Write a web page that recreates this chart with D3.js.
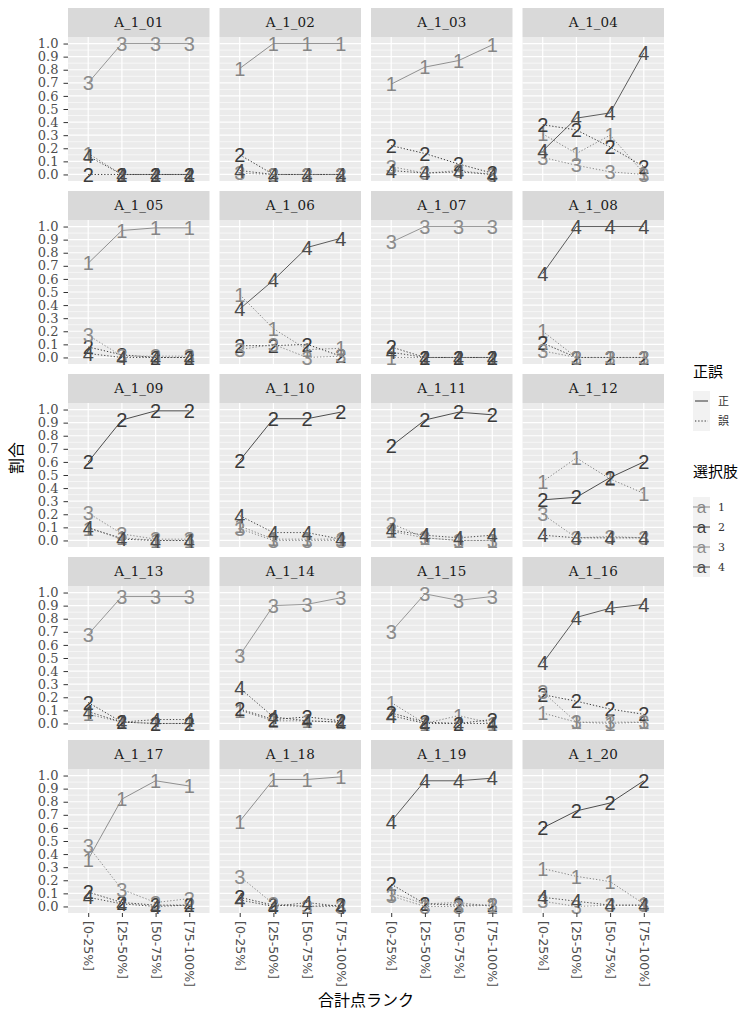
<!DOCTYPE html>
<html>
<head>
<meta charset="utf-8">
<script src="https://cdn.jsdelivr.net/npm/d3@7"></script>
<style>
  body { margin: 0; background: #fff; }
</style>
</head>
<body>
<svg id="chart" width="750" height="1012"></svg>
<script>
// ---- data -------------------------------------------------------------
const items = ["A_1_01","A_1_02","A_1_03","A_1_04","A_1_05","A_1_06","A_1_07","A_1_08","A_1_09","A_1_10",
               "A_1_11","A_1_12","A_1_13","A_1_14","A_1_15","A_1_16","A_1_17","A_1_18","A_1_19","A_1_20"];
const ranks = ["[0-25%]", "[25-50%]", "[50-75%]", "[75-100%]"];
const choices = ["1", "2", "3", "4"];
const correct = [3,1,1,4,1,4,3,4,2,2,2,2,3,3,3,4,1,1,4,2];
const yTicks = [0.0,0.1,0.2,0.3,0.4,0.5,0.6,0.7,0.8,0.9,1.0];

// share of examinees picking each choice, per item, per rank group
const choice1 = [
  [0.16,0.00,0.00,0.00],[0.81,1.00,1.00,1.00],[0.69,0.82,0.87,0.99],[0.31,0.16,0.30,0.01],
  [0.72,0.97,0.99,0.99],[0.48,0.22,0.06,0.07],[0.00,0.00,0.00,0.00],[0.20,0.00,0.00,0.00],
  [0.09,0.02,0.00,0.00],[0.11,0.01,0.01,0.01],[0.07,0.02,0.00,0.00],[0.45,0.63,0.47,0.36],
  [0.07,0.01,0.00,0.00],[0.10,0.02,0.02,0.01],[0.16,0.00,0.06,0.00],[0.08,0.01,0.00,0.01],
  [0.36,0.82,0.96,0.92],[0.65,0.97,0.97,0.99],[0.10,0.02,0.03,0.00],[0.29,0.23,0.19,0.02]
];
const choice2 = [
  [0.00,0.00,0.00,0.00],[0.15,0.00,0.00,0.00],[0.22,0.16,0.08,0.01],[0.38,0.34,0.21,0.06],
  [0.08,0.02,0.00,0.00],[0.09,0.09,0.10,0.01],[0.08,0.00,0.00,0.00],[0.11,0.00,0.00,0.00],
  [0.60,0.92,0.99,0.99],[0.61,0.93,0.93,0.98],[0.72,0.92,0.98,0.96],[0.31,0.33,0.48,0.60],
  [0.16,0.01,0.00,0.00],[0.11,0.03,0.05,0.02],[0.08,0.01,0.00,0.03],[0.22,0.17,0.11,0.07],
  [0.11,0.03,0.01,0.01],[0.07,0.01,0.00,0.01],[0.17,0.02,0.01,0.01],[0.60,0.73,0.79,0.96]
];
const choice3 = [
  [0.70,1.00,1.00,1.00],[0.01,0.00,0.00,0.00],[0.06,0.01,0.03,0.00],[0.13,0.07,0.02,0.00],
  [0.17,0.01,0.01,0.01],[0.06,0.10,0.00,0.01],[0.88,1.00,1.00,1.00],[0.05,0.00,0.00,0.00],
  [0.21,0.05,0.01,0.01],[0.09,0.00,0.00,0.00],[0.13,0.02,0.00,0.00],[0.20,0.02,0.03,0.02],
  [0.68,0.97,0.97,0.97],[0.52,0.90,0.91,0.96],[0.70,0.99,0.94,0.97],[0.24,0.01,0.01,0.01],
  [0.46,0.13,0.03,0.06],[0.23,0.02,0.00,0.00],[0.08,0.00,0.00,0.01],[0.04,0.00,0.01,0.01]
];
const choice4 = [
  [0.14,0.00,0.00,0.00],[0.03,0.00,0.00,0.00],[0.03,0.01,0.02,0.00],[0.18,0.43,0.47,0.93],
  [0.03,0.00,0.00,0.00],[0.37,0.59,0.84,0.91],[0.04,0.00,0.00,0.00],[0.64,1.00,1.00,1.00],
  [0.10,0.01,0.00,0.00],[0.19,0.06,0.06,0.01],[0.08,0.04,0.02,0.04],[0.04,0.02,0.02,0.02],
  [0.09,0.01,0.03,0.03],[0.27,0.05,0.02,0.01],[0.06,0.00,0.00,0.00],[0.46,0.81,0.88,0.91],
  [0.07,0.02,0.00,0.01],[0.05,0.00,0.03,0.00],[0.65,0.96,0.96,0.98],[0.07,0.04,0.01,0.01]
];
const series = [choice1, choice2, choice3, choice4];

// ---- layout -----------------------------------------------------------
const pw = 141.5, ph = 144, stripH = 29, colGap = 10, rowPitch = 183;
const left0 = 68, top0 = 8;
const serif = "'DejaVu Serif', serif",
      sans = "'Liberation Sans', Arial, sans-serif",
      jp = "'Noto Sans CJK JP', sans-serif";

const svg = d3.select("#chart");

const x = d3.scalePoint().domain(ranks).range([0, pw]).padding(0.6);
const y = d3.scaleLinear().domain([-0.05, 1.05]).range([ph, 0]);
const colour = d3.scaleOrdinal().domain(choices)
  .range(["#858585", "#3b3b3b", "#8c8c8c", "#4b4b4b"]);
const dash = { solid: null, dotted: "1.3,1.9" };

const line = d3.line()
  .x((d, j) => x(ranks[j]))
  .y(d => y(d));

const minorTicks = d3.range(0.05, 1.0, 0.1);

items.forEach((name, i) => {
  const col = i % 4, row = Math.floor(i / 4);
  const g = svg.append("g")
    .attr("transform", `translate(${left0 + col * (pw + colGap)},${top0 + row * rowPitch})`);

  // strip
  g.append("rect").attr("width", pw).attr("height", stripH).attr("fill", "#D9D9D9");
  g.append("text")
    .attr("x", pw / 2).attr("y", stripH / 2).attr("dy", "0.36em")
    .attr("text-anchor", "middle")
    .style("font-family", serif).style("font-size", "13.5px").attr("fill", "#1a1a1a")
    .text(name);

  const p = g.append("g").attr("transform", `translate(0,${stripH})`);
  p.append("rect").attr("width", pw).attr("height", ph).attr("fill", "#EBEBEB");

  // grid
  p.selectAll(".minor").data(minorTicks).join("line")
    .attr("x1", 0).attr("x2", pw)
    .attr("y1", d => y(d)).attr("y2", d => y(d))
    .attr("stroke", "#fff").attr("stroke-width", 0.6);
  p.selectAll(".major").data(yTicks).join("line")
    .attr("x1", 0).attr("x2", pw)
    .attr("y1", d => y(d)).attr("y2", d => y(d))
    .attr("stroke", "#fff").attr("stroke-width", 1.2);
  p.selectAll(".vgrid").data(ranks).join("line")
    .attr("x1", d => x(d)).attr("x2", d => x(d))
    .attr("y1", 0).attr("y2", ph)
    .attr("stroke", "#fff").attr("stroke-width", 1.2);

  // lines
  series.forEach((s, k) => {
    const ok = correct[i] === +choices[k];
    p.append("path")
      .attr("d", line(s[i]))
      .attr("fill", "none")
      .attr("stroke", colour(choices[k]))
      .attr("stroke-width", ok ? 0.9 : 1)
      .attr("stroke-dasharray", ok ? dash.solid : dash.dotted);
  });

  // text marks
  series.forEach((s, k) => {
    p.selectAll(null).data(s[i]).join("text")
      .attr("x", (d, j) => x(ranks[j]))
      .attr("y", d => y(d))
      .attr("dy", "0.36em")
      .attr("text-anchor", "middle")
      .style("font-family", sans).style("font-size", "20px")
      .attr("fill", colour(choices[k]))
      .text(choices[k]);
  });

  // y axis on first column
  if (col === 0) {
    const ya = p.append("g")
      .call(d3.axisLeft(y).tickValues(yTicks).tickFormat(d3.format(".1f")).tickSize(4.5).tickPadding(5));
    ya.select(".domain").remove();
    ya.selectAll("line").attr("stroke", "#333");
    ya.selectAll("text").style("font-family", serif).style("font-size", "13px").attr("fill", "#4d4d4d");
  }

  // x axis on bottom row
  if (row === 4) {
    const xa = p.append("g").attr("transform", `translate(0,${ph})`)
      .call(d3.axisBottom(x).tickSize(4));
    xa.select(".domain").remove();
    xa.selectAll("line").attr("stroke", "#333");
    xa.selectAll("text")
      .attr("transform", "rotate(90)")
      .attr("x", 8).attr("y", 0).attr("dy", "0.36em")
      .style("text-anchor", "start")
      .style("font-family", "'DejaVu Sans', sans-serif").style("font-size", "12.5px")
      .attr("fill", "#4d4d4d");
  }
});

// axis titles
svg.append("text")
  .attr("transform", "translate(22,458) rotate(-90)")
  .attr("text-anchor", "middle")
  .style("font-family", jp).style("font-size", "16px").attr("fill", "#000")
  .text("割合");
svg.append("text")
  .attr("x", left0 + (4 * pw + 3 * colGap) / 2).attr("y", 1006)
  .attr("text-anchor", "middle")
  .style("font-family", jp).style("font-size", "16px").attr("fill", "#000")
  .text("合計点ランク");

// ---- legends ----------------------------------------------------------
const lg = svg.append("g").attr("transform", "translate(693,0)");
const keyW = 17, keyH = 20;

lg.append("text").attr("x", 0).attr("y", 377)
  .style("font-family", jp).style("font-size", "15px").text("正誤");
const lt = ["正", "誤"];
lt.forEach((t, k) => {
  const ky = 391 + k * keyH;
  lg.append("rect").attr("x", 0).attr("y", ky).attr("width", keyW).attr("height", keyH).attr("fill", "#F2F2F2");
  lg.append("line").attr("x1", 2).attr("x2", keyW - 2).attr("y1", ky + keyH / 2).attr("y2", ky + keyH / 2)
    .attr("stroke", "#333").attr("stroke-width", 1)
    .attr("stroke-dasharray", k === 0 ? null : dash.dotted);
  lg.append("text").attr("x", keyW + 8).attr("y", ky + keyH / 2).attr("dy", "0.36em")
    .style("font-family", jp).style("font-size", "11px").attr("fill", "#333").text(t);
});

lg.append("text").attr("x", 0).attr("y", 477)
  .style("font-family", jp).style("font-size", "15px").text("選択肢");
choices.forEach((c, k) => {
  const ky = 497 + k * keyH;
  lg.append("rect").attr("x", 0).attr("y", ky).attr("width", keyW).attr("height", keyH).attr("fill", "#F2F2F2");
  lg.append("line").attr("x1", 0).attr("x2", keyW).attr("y1", ky + keyH / 2).attr("y2", ky + keyH / 2)
    .attr("stroke", colour(c)).attr("stroke-width", 1);
  lg.append("text").attr("x", keyW / 2).attr("y", ky + keyH / 2).attr("dy", "0.33em")
    .attr("text-anchor", "middle")
    .style("font-family", sans).style("font-size", "17px").attr("fill", colour(c)).text("a");
  lg.append("text").attr("x", keyW + 8).attr("y", ky + keyH / 2).attr("dy", "0.36em")
    .style("font-family", serif).style("font-size", "11px").attr("fill", "#333").text(c);
});
</script>
</body>
</html>
